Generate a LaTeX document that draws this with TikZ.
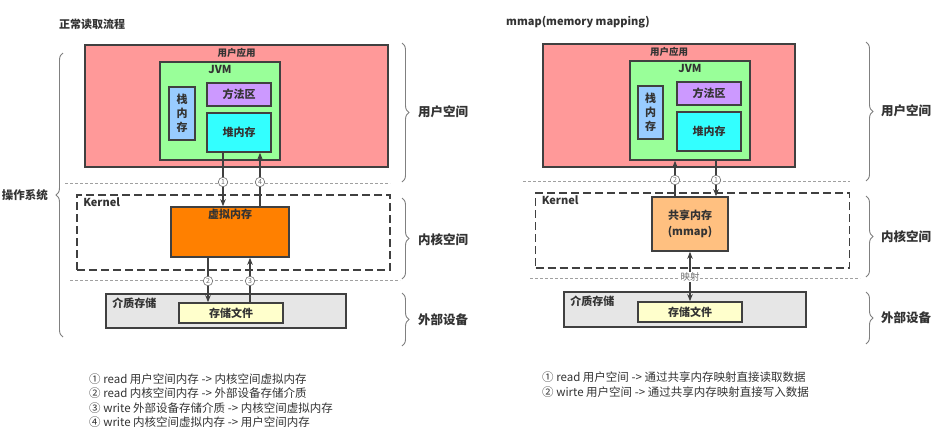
\documentclass[tikz,border=0pt]{standalone}
\usepackage{fontspec}
\setmainfont{Noto Sans CJK SC}
\usetikzlibrary{arrows.meta,decorations.pathreplacing}
\definecolor{bd}{HTML}{404040}
\definecolor{txt}{HTML}{333333}
\definecolor{cred}{HTML}{FF9999}
\definecolor{cgreen}{HTML}{99FF99}
\definecolor{cblue}{HTML}{99CCFF}
\definecolor{cpurple}{HTML}{CC99FF}
\definecolor{ccyan}{HTML}{33FFFF}
\definecolor{corange}{HTML}{FF8000}
\definecolor{clorange}{HTML}{FFC080}
\definecolor{cgray}{HTML}{E6E6E6}
\definecolor{cyellow}{HTML}{FFFFCC}
\definecolor{sepc}{HTML}{A0A0A0}
\definecolor{numc}{HTML}{707070}
\begin{document}
\begin{tikzpicture}[x=1pt,y=-1pt,
  box/.style={draw=bd, line width=1.6pt, inner sep=0pt, text=txt},
  lbl/.style={text=txt, inner sep=1pt, font=\fontsize{11}{13}\selectfont\bfseries},
  small/.style={text=txt, inner sep=1pt, font=\fontsize{9.5}{11}\selectfont\bfseries},
  side/.style={text=txt, inner sep=1pt, font=\fontsize{12.5}{14}\selectfont\bfseries},
  legend/.style={text=txt, inner sep=0pt, anchor=west, font=\fontsize{11.5}{13}\selectfont},
  arr/.style={-{Stealth[length=7pt,width=5.5pt]}, line width=1.4pt, draw=bd},
  darr/.style={{Stealth[length=7pt,width=5.5pt]}-{Stealth[length=7pt,width=5.5pt]}, line width=1.4pt, draw=bd},
  sep/.style={draw=sepc, line width=1pt, dash pattern=on 3pt off 2pt},
  kern/.style={draw=bd, line width=1.8pt, dash pattern=on 8pt off 4pt, inner sep=0pt},
  brc/.style={draw=gray, line width=0.9pt, decorate, decoration={brace, amplitude=7pt}},
  num/.style={circle, draw=numc, line width=0.6pt, fill=white, inner sep=0pt, minimum size=9.5pt,
              text=numc, font=\fontsize{7}{7}\selectfont},
  maplbl/.style={fill=white, inner sep=0.5pt, text=numc, font=\fontsize{9.5}{10}\selectfont}
]
\useasboundingbox (0,0) rectangle (945,437);
\fill[white] (0,0) rectangle (945,437);

% ================= LEFT =================
\node[lbl, anchor=west] (ltitle) at (58,24) {正常读取流程};

\node[box, fill=cred, minimum width=303pt, minimum height=122pt] (lapp) at (236.5,106) {};
\node[small, below] (lappl) at ([yshift=-2.5pt]lapp.north) {用户应用};
\node[box, fill=cgreen, minimum width=120pt, minimum height=98pt] (ljvm) at (220,111) {};
\node[lbl, below] (ljvml) at ([yshift=-3pt]ljvm.north) {JVM};
\node[box, fill=cblue, minimum width=26pt, minimum height=53pt, align=center,
      font=\fontsize{11}{14}\selectfont\bfseries] (lstack) at (182,113.5) {栈\\内\\存};
\node[box, fill=cpurple, minimum width=64pt, minimum height=23pt, font=\fontsize{11}{13}\selectfont\bfseries] (lmethod) at (239,94.5) {方法区};
\node[box, fill=ccyan, minimum width=64pt, minimum height=39pt, font=\fontsize{11}{13}\selectfont\bfseries] (lheap) at (239,132.5) {堆内存};

\coordinate (lsep1a) at (65,183);
\coordinate (lsep1b) at (390,183);
\draw[sep] (lsep1a) -- (lsep1b);

\node[kern, minimum width=313pt, minimum height=75pt] (lkern) at (233.5,232.5) {};
\node[lbl, anchor=north west] (lkernl) at ([xshift=6pt,yshift=-2.5pt]lkern.north west) {Kernel};
\node[box, fill=corange, minimum width=118pt, minimum height=50pt] (lvirt) at (230,232) {};
\node[lbl, below] (lvirtl) at ([yshift=-2pt]lvirt.north) {虚拟内存};

\coordinate (lsep2a) at (70,280);
\coordinate (lsep2b) at (400,280);
\draw[sep] (lsep2a) -- (lsep2b);

\node[box, fill=cgray, minimum width=240pt, minimum height=34pt] (lmedia) at (226,311) {};
\node[lbl, anchor=north west] (lmedial) at ([xshift=6pt,yshift=-3.5pt]lmedia.north west) {介质存储};
\node[box, fill=cyellow, minimum width=104pt, minimum height=20pt, font=\fontsize{11}{13}\selectfont\bfseries] (lfile) at (231,313) {存储文件};

% arrows left
\coordinate (lx1) at (223,0);
\coordinate (lx4) at (260,0);
\coordinate (lx2) at (208,0);
\coordinate (lx3) at (250,0);
\draw[arr] (lheap.south -| lx1) -- (lvirt.north -| lx1);
\draw[arr] (lvirt.north -| lx4) -- (lheap.south -| lx4);
\draw[arr] (lvirt.south -| lx2) -- (lfile.north -| lx2);
\draw[arr] (lfile.north -| lx3) -- (lvirt.south -| lx3);
\node[num] (ln1) at (223,182) {1};
\node[num] (ln4) at (260,182) {4};
\node[num] (ln2) at (208,281) {2};
\node[num] (ln3) at (250,281) {3};

% braces left
\coordinate (lb1a) at (402,43);  \coordinate (lb1b) at (402,182);
\coordinate (lb2a) at (402,198); \coordinate (lb2b) at (402,279);
\coordinate (lb3a) at (402,293); \coordinate (lb3b) at (402,346);
\draw[brc] (lb1a) -- (lb1b);
\draw[brc] (lb2a) -- (lb2b);
\draw[brc] (lb3a) -- (lb3b);
\node[side, anchor=west] (lus) at (417,112) {用户空间};
\node[side, anchor=west] (lks) at (417,240) {内核空间};
\node[side, anchor=west] (les) at (417,320) {外部设备};
\coordinate (lb0a) at (63,337); \coordinate (lb0b) at (63,53);
\draw[brc] (lb0a) -- (lb0b);
\node[side, anchor=east, font=\fontsize{11.5}{13}\selectfont\bfseries] (los) at (49,195) {操作系统};

% legend left
\node[legend] (lg1) at (89,379) {① read 用户空间内存 -> 内核空间虚拟内存};
\node[legend] (lg2) at (89,393.5) {② read 内核空间内存 -> 外部设备存储介质};
\node[legend] (lg3) at (89,408) {③ write 外部设备存储介质 -> 内核空间虚拟内存};
\node[legend] (lg4) at (89,422.5) {④ write 内核空间虚拟内存 -> 用户空间内存};

% ================= RIGHT =================
\node[lbl, anchor=west] (rtitle) at (505,22) {mmap(memory mapping)};

\node[box, fill=cred, minimum width=252pt, minimum height=123pt] (rapp) at (669,105.5) {};
\node[small, below] (rappl) at ([yshift=-2.5pt]rapp.north) {用户应用};
\node[box, fill=cgreen, minimum width=120pt, minimum height=99pt] (rjvm) at (690,110.5) {};
\node[lbl, below] (rjvml) at ([yshift=-3pt]rjvm.north) {JVM};
\node[box, fill=cblue, minimum width=25pt, minimum height=53pt, align=center,
      font=\fontsize{11}{14}\selectfont\bfseries] (rstack) at (650.5,112.5) {栈\\内\\存};
\node[box, fill=cpurple, minimum width=64pt, minimum height=23pt, font=\fontsize{11}{13}\selectfont\bfseries] (rmethod) at (709,93.5) {方法区};
\node[box, fill=ccyan, minimum width=64pt, minimum height=39pt, font=\fontsize{11}{13}\selectfont\bfseries] (rheap) at (709,131.5) {堆内存};

\coordinate (rsep1a) at (523,181);
\coordinate (rsep1b) at (850,181);
\draw[sep] (rsep1a) -- (rsep1b);

\node[kern, minimum width=314pt, minimum height=75pt] (rkern) at (692.5,230.5) {};
\node[lbl, anchor=north west] (rkernl) at ([xshift=6pt,yshift=-2.5pt]rkern.north west) {Kernel};
\node[box, fill=clorange, minimum width=76pt, minimum height=54pt, align=center,
      font=\fontsize{11}{16}\selectfont\bfseries] (rshm) at (690,224) {共享内存\\(mmap)};

\coordinate (rsep2a) at (530,278);
\coordinate (rsep2b) at (860,278);
\draw[sep] (rsep2a) -- (rsep2b);

\node[box, fill=cgray, minimum width=242pt, minimum height=35pt] (rmedia) at (685,309.5) {};
\node[lbl, anchor=north west] (rmedial) at ([xshift=6pt,yshift=-3.5pt]rmedia.north west) {介质存储};
\node[box, fill=cyellow, minimum width=104pt, minimum height=20pt, font=\fontsize{11}{13}\selectfont\bfseries] (rfile) at (690,312) {存储文件};

% arrows right
\coordinate (rx2) at (675,0);
\coordinate (rx1) at (716,0);
\coordinate (rxm) at (690,0);
\draw[arr] (rshm.north -| rx2) -- (rjvm.south -| rx2);
\draw[arr] (rjvm.south -| rx1) -- (rshm.north -| rx1);
\draw[darr] (rshm.south -| rxm) -- (rfile.north -| rxm);
\node[num] (rn2) at (675,180) {2};
\node[num] (rn1) at (716,180) {1};
\node[maplbl] (rmap) at (690,277) {映射};

% braces right
\coordinate (rb1a) at (866,42);  \coordinate (rb1b) at (866,181);
\coordinate (rb2a) at (866,196); \coordinate (rb2b) at (866,277);
\coordinate (rb3a) at (866,292); \coordinate (rb3b) at (866,344);
\draw[brc] (rb1a) -- (rb1b);
\draw[brc] (rb2a) -- (rb2b);
\draw[brc] (rb3a) -- (rb3b);
\node[side, anchor=west] (rus) at (880,111) {用户空间};
\node[side, anchor=west] (rks) at (880,237) {内核空间};
\node[side, anchor=west] (res) at (880,318) {外部设备};

% legend right
\node[legend] (rg1) at (542,377.5) {① read 用户空间 -> 通过共享内存映射直接读取数据};
\node[legend] (rg2) at (542,392) {② wirte 用户空间 -> 通过共享内存映射直接写入数据};
\end{tikzpicture}
\end{document}
